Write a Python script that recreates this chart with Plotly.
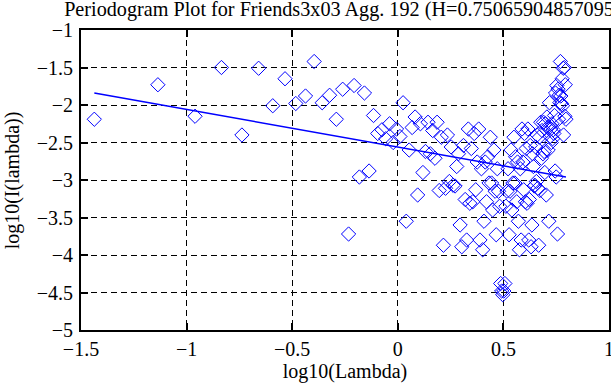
import plotly.graph_objects as go

# log10(frequency) values of the periodogram points
log_lambda = [
    -1.437, -1.136, -0.960, -0.835, -0.738, -0.659, -0.592, -0.534, -0.483, -0.437,
    -0.396, -0.358, -0.323, -0.291, -0.261, -0.233, -0.207, -0.182, -0.158, -0.136,
    -0.115, -0.095, -0.075, -0.057, -0.039, -0.022, -0.006, 0.010, 0.025, 0.040,
    0.054, 0.068, 0.082, 0.094, 0.107, 0.119, 0.131, 0.143, 0.154, 0.165,
    0.176, 0.186, 0.196, 0.206, 0.216, 0.226, 0.235, 0.244, 0.253, 0.262,
    0.271, 0.279, 0.287, 0.295, 0.303, 0.311, 0.319, 0.326, 0.334, 0.341,
    0.348, 0.355, 0.362, 0.369, 0.376, 0.383, 0.389, 0.396, 0.402, 0.408,
    0.414, 0.420, 0.426, 0.432, 0.438, 0.444, 0.449, 0.455, 0.461, 0.466,
    0.471, 0.477, 0.482, 0.487, 0.492, 0.497, 0.502, 0.507, 0.512, 0.517,
    0.522, 0.527, 0.531, 0.536, 0.540, 0.545, 0.550, 0.554, 0.558, 0.563,
    0.567, 0.571, 0.576, 0.580, 0.584, 0.588, 0.592, 0.596, 0.600, 0.604,
    0.608, 0.612, 0.616, 0.620, 0.623, 0.627, 0.631, 0.635, 0.638, 0.642,
    0.646, 0.649, 0.653, 0.656, 0.660, 0.663, 0.667, 0.670, 0.673, 0.677,
    0.680, 0.683, 0.687, 0.690, 0.693, 0.696, 0.699, 0.703, 0.706, 0.709,
    0.712, 0.715, 0.718, 0.721, 0.724, 0.727, 0.730, 0.733, 0.736, 0.739,
    0.742, 0.745, 0.747, 0.750, 0.753, 0.756, 0.759, 0.761, 0.764, 0.767,
    0.770, 0.772, 0.775, 0.778, 0.780, 0.783, 0.785, 0.788, 0.791, 0.793,
    0.796,
]

# log10(I(lambda)) values
log_I = [
    -2.19, -1.73, -2.15, -1.50, -2.40, -1.51, -2.01, -1.65, -1.98, -1.88,
    -1.42, -1.97, -1.87, -2.19, -1.79, -3.72, -1.74, -2.96, -1.84, -2.88,
    -2.14, -2.38, -2.33, -2.45, -2.25, -2.50, -2.32, -2.42, -1.97, -3.55,
    -2.60, -2.30, -2.16, -3.20, -2.25, -2.90, -2.62, -2.23, -2.65, -2.34,
    -2.71, -2.23, -3.14, -2.43, -3.87, -3.11, -2.40, -3.02, -2.56, -3.07,
    -3.08, -2.82, -2.65, -3.60, -3.89, -2.54, -3.26, -3.80, -2.32, -3.31,
    -2.58, -3.29, -2.38, -3.13, -2.76, -2.32, -3.80, -2.85, -3.93, -3.55,
    -2.76, -3.29, -2.69, -3.04, -2.43, -3.04, -3.40, -2.60, -3.15, -3.73,
    -2.85, -3.15, -3.35, -4.38, -4.48, -4.53, -4.48, -4.38, -3.35, -3.15,
    -2.85, -3.73, -3.15, -2.60, -3.40, -3.04, -2.43, -3.04, -2.69, -3.29,
    -2.76, -3.55, -3.93, -2.85, -3.80, -2.32, -2.76, -3.13, -2.38, -3.29,
    -2.58, -3.31, -2.32, -3.80, -3.26, -2.54, -3.89, -3.60, -2.65, -2.82,
    -3.08, -3.07, -2.56, -3.02, -2.40, -3.11, -3.87, -2.43, -3.14, -2.23,
    -2.71, -2.34, -2.65, -2.23, -2.62, -2.90, -2.25, -3.20, -2.16, -2.30,
    -2.60, -3.55, -1.97, -2.42, -2.32, -2.50, -2.25, -2.45, -2.33, -2.38,
    -2.14, -2.88, -1.84, -2.96, -1.74, -3.72, -1.79, -2.19, -1.87, -1.97,
    -1.42, -1.88, -1.98, -1.65, -2.01, -1.51, -2.40, -1.50, -2.15, -1.73,
    -2.19,
]

# least-squares fit line endpoints
fit_x = [-1.437, 0.796]
fit_y = [-1.841, -2.960]

x_ticks = [-1.5, -1, -0.5, 0, 0.5, 1]
x_tick_text = ["\u22121.5", "\u22121", "\u22120.5", "0", "0.5", "1"]
y_ticks = [-5, -4.5, -4, -3.5, -3, -2.5, -2, -1.5, -1]
y_tick_text = ["\u22125", "\u22124.5", "\u22124", "\u22123.5", "\u22123",
               "\u22122.5", "\u22122", "\u22121.5", "\u22121"]

title_text = "Periodogram Plot for Friends3x03 Agg. 192 (H=0.750659048570954)"

fig = go.Figure()
fig.add_trace(go.Scatter(
    x=log_lambda, y=log_I, mode="markers",
    marker=dict(symbol="diamond-open", size=11, color="#0000ff",
                line=dict(width=1, color="#0000ff")),
    showlegend=False,
))
fig.add_trace(go.Scatter(
    x=fit_x, y=fit_y, mode="lines",
    line=dict(color="#0000ff", width=1.5),
    showlegend=False,
))

axis_common = dict(
    showgrid=True, gridcolor="black", gridwidth=1, griddash="6px,4px",
    showline=True, linecolor="black", linewidth=2, mirror="ticks",
    ticks="inside", ticklen=7, tickwidth=2, tickcolor="black",
    zeroline=False, automargin=False, ticklabeloverflow="allow",
    tickfont=dict(size=20, color="black"),
)

fig.update_layout(
    width=611, height=385,
    margin=dict(l=81, r=2, t=30, b=55),
    paper_bgcolor="white", plot_bgcolor="white",
    font=dict(family="Liberation Serif, Times New Roman, serif", size=20, color="black"),
    title=dict(text=title_text, x=0.105, xref="container", xanchor="left",
               y=0.978, yref="container", yanchor="middle",
               font=dict(size=20.2, color="black")),
    xaxis=dict(range=[-1.5, 1], tickvals=x_ticks, ticktext=x_tick_text,
               ticklabelstandoff=0,
               title=dict(text="log10(Lambda)", standoff=2, font=dict(size=20)),
               **axis_common),
    yaxis=dict(range=[-5, -1], tickvals=y_ticks, ticktext=y_tick_text,
               ticklabelstandoff=2,
               **axis_common),
    annotations=[dict(text="log10(I(lambda))", textangle=-90,
                      xref="paper", yref="paper", x=-0.13, y=0.5,
                      xanchor="center", yanchor="middle", showarrow=False,
                      font=dict(size=20, color="black"))],
)

fig.write_html("out.html", config={"displayModeBar": False})

# remove the default page margin so the figure fills the window exactly
with open("out.html", "r", encoding="utf-8") as f:
    html = f.read()
html = html.replace("<head>", "<head><style>html,body{margin:0;padding:0;overflow:hidden;}</style>", 1)
with open("out.html", "w", encoding="utf-8") as f:
    f.write(html)
